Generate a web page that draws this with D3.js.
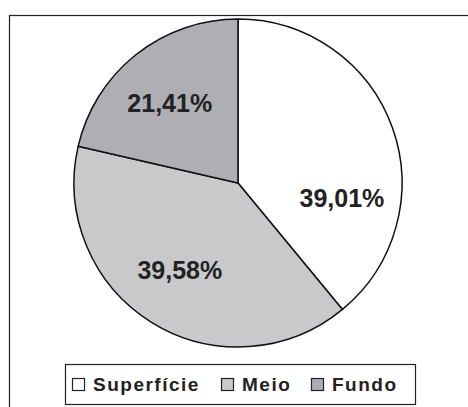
<!DOCTYPE html>
<html>
<head>
<meta charset="utf-8">
<script src="https://cdn.jsdelivr.net/npm/d3@7"></script>
<style>
  body { margin: 0; background: #fff; }
  svg { display: block; font-family: "Liberation Sans", Arial, sans-serif; }
</style>
</head>
<body>
<div id="chart"></div>
<script>
// data
const categories = ["Superfície", "Meio", "Fundo"];
const values = [39.01, 39.58, 21.41];
const colors = ["#ffffff", "#c9c9cb", "#aeaeb4"];
// small angle nudges (degrees) for where the labels sit
const labelNudge = [28, 2, -2];

const width = 468, height = 407;
const cx = 238, cy = 183, radius = 164;

const svg = d3.select("#chart").append("svg")
  .attr("width", width)
  .attr("height", height);

// outer frame (right/bottom edges run off the picture)
svg.append("rect")
  .attr("x", 9.5).attr("y", 15.5)
  .attr("width", 470).attr("height", 400)
  .attr("fill", "none")
  .attr("stroke", "#222")
  .attr("stroke-width", 1.2);

const pie = d3.pie().sort(null).value(d => d.value);
const arcs = pie(categories.map((c, i) => ({ name: c, value: values[i], i })));
const arc = d3.arc().innerRadius(0).outerRadius(radius);

const g = svg.append("g").attr("transform", `translate(${cx},${cy})`);

g.selectAll("path.slice")
  .data(arcs)
  .join("path")
  .attr("class", "slice")
  .attr("d", arc)
  .attr("fill", d => colors[d.data.i])
  .attr("stroke", "#111")
  .attr("stroke-width", 1.5)
  .attr("stroke-linejoin", "round");

const fmt = v => d3.format(".2f")(v).replace(".", ",") + "%";
const labelR = 105;

g.selectAll("text.lbl")
  .data(arcs)
  .join("text")
  .attr("class", "lbl")
  .attr("x", d => {
    const a = (d.startAngle + d.endAngle) / 2 + labelNudge[d.data.i] * Math.PI / 180;
    return labelR * Math.sin(a);
  })
  .attr("y", d => {
    const a = (d.startAngle + d.endAngle) / 2 + labelNudge[d.data.i] * Math.PI / 180;
    return -labelR * Math.cos(a);
  })
  .attr("dy", "0.36em")
  .attr("text-anchor", "middle")
  .attr("font-size", 25)
  .attr("font-weight", "bold")
  .attr("fill", "#222")
  .text(d => fmt(d.data.value));

// legend
const legend = svg.append("g");
legend.append("rect")
  .attr("x", 65.5).attr("y", 364.5)
  .attr("width", 350).attr("height", 40)
  .attr("fill", "#fff")
  .attr("stroke", "#222")
  .attr("stroke-width", 1.2);

const legendX = d3.scaleOrdinal().domain(categories).range([72, 221, 311]);

const items = legend.selectAll("g.item")
  .data(categories)
  .join("g")
  .attr("class", "item")
  .attr("transform", d => `translate(${legendX(d)},378)`);

items.append("rect")
  .attr("x", 0.5).attr("y", 0.5)
  .attr("width", 12).attr("height", 12)
  .attr("fill", (d, i) => colors[i])
  .attr("stroke", "#222")
  .attr("stroke-width", 1.2);

items.append("text")
  .attr("x", 21)
  .attr("y", 12.5)
  .attr("font-size", 19)
  .attr("font-weight", "bold")
  .attr("letter-spacing", 1.5)
  .attr("fill", "#222")
  .text(d => d);
</script>
</body>
</html>
